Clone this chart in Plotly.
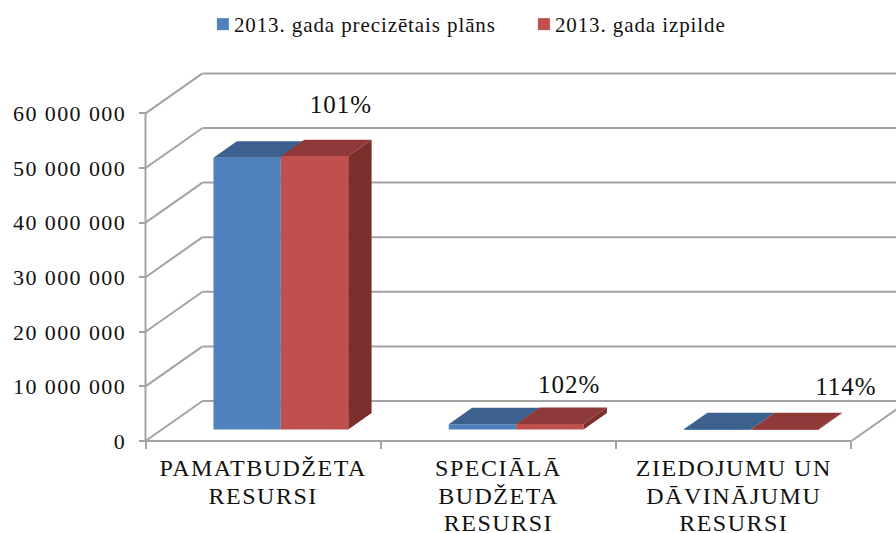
import plotly.graph_objects as go

categories = ["PAMATBUDŽETA<br>RESURSI", "SPECIĀLĀ<br>BUDŽETA<br>RESURSI", "ZIEDOJUMU UN<br>DĀVINĀJUMU<br>RESURSI"]
plan_name = "2013. gada precizētais plāns"
done_name = "2013. gada izpilde"
plan_values = [49750000, 950000, 50000]
done_values = [50050000, 1000000, 55000]
pct_labels = ["101%", "102%", "114%"]
y_ticks = [0, 10000000, 20000000, 30000000, 40000000, 50000000, 60000000]
y_tick_text = ["0", "10 000 000", "20 000 000", "30 000 000", "40 000 000", "50 000 000", "60 000 000"]

# oblique projection of the 3D box, in axis units
WALL_DX, WALL_DY = 0.2422, 7330000
D_FRONT, D_BACK = 0.29, 0.70
BAR_W, CENTER = 0.2864, 0.505
LABEL_X = [0.831, 1.80, 2.977]
LABEL_Y = [61134000, 9894000, 9534000]

BLUE, BLUE_TOP = "#4F81BD", "#3C618F"
RED, RED_TOP, RED_SIDE = "#C0504D", "#8F3A38", "#7B2F2D"
GRID = "#A3A3A3"
FONT = "Liberation Serif"

def proj(x, v, d):
    return x + d * WALL_DX, v + d * WALL_DY

fig = go.Figure()
base = D_FRONT * WALL_DY
for i, (name, vals, col) in enumerate([(plan_name, plan_values, BLUE), (done_name, done_values, RED)]):
    xs = [k + CENTER + (i - 1) * BAR_W + BAR_W / 2 + D_FRONT * WALL_DX for k in range(3)]
    fig.add_trace(go.Bar(name=name, x=xs, y=vals, base=[base] * 3, width=BAR_W,
                         marker=dict(color=col, line=dict(width=0)), hoverinfo="skip"))

def face(pts, col):
    fig.add_trace(go.Scatter(x=[p[0] for p in pts], y=[p[1] for p in pts], mode="lines", fill="toself",
                             fillcolor=col, line=dict(width=0, color=col), showlegend=False, hoverinfo="skip"))

for k in range(3):
    for i, (vals, col) in enumerate([(plan_values, BLUE_TOP), (done_values, RED_TOP)]):
        x0 = k + CENTER + (i - 1) * BAR_W
        x1 = x0 + BAR_W
        v = vals[k]
        face([proj(x0, v, D_FRONT), proj(x1, v, D_FRONT), proj(x1, v, D_BACK), proj(x0, v, D_BACK)], col)
        if i == 1:
            face([proj(x1, 0, D_FRONT), proj(x1, v, D_FRONT), proj(x1, v, D_BACK), proj(x1, 0, D_BACK)], RED_SIDE)

fig.add_trace(go.Scatter(x=LABEL_X, y=LABEL_Y, mode="text", text=pct_labels, textposition="middle center",
                         textfont=dict(family=FONT, size=25, color="#111111"), showlegend=False, hoverinfo="skip"))

shapes = []
def seg(x0, y0, x1, y1):
    shapes.append(dict(type="line", xref="x", yref="y", x0=x0, y0=y0, x1=x1, y1=y1, layer="below",
                       line=dict(color=GRID, width=2)))
for v in y_ticks:
    seg(0, v, WALL_DX, v + WALL_DY)
    seg(WALL_DX, v + WALL_DY, 3 + WALL_DX, v + WALL_DY)
seg(0, 0, 0, y_ticks[-1])
seg(0, 0, 3, 0)
seg(3, 0, 3 + WALL_DX, WALL_DY)

W, H = 896, 533
X0_PX, X_UNIT = 145.5, 235.3
Y0_PX, Y_UNIT = 441.0, 54.6 / 10000000

fig.update_layout(
    width=W, height=H, margin=dict(l=0, r=0, t=0, b=0), paper_bgcolor="white", plot_bgcolor="white",
    barmode="overlay", shapes=shapes,
    font=dict(family=FONT, color="#111111"),
    legend=dict(orientation="h", x=0.2164, y=0.9925, xanchor="left", yanchor="top", font=dict(family=FONT, size=21),
                bgcolor="rgba(0,0,0,0)", itemclick=False, traceorder="normal", entrywidth=276, entrywidthmode="pixels"),
    xaxis=dict(range=[-X0_PX / X_UNIT, (W - X0_PX) / X_UNIT], domain=[0, 1], anchor="free", position=(H - Y0_PX) / H,
               automargin=False,
               tickmode="array", tickvals=[0.5, 1.5, 2.5], ticktext=categories, ticks="", showgrid=False, zeroline=False,
               showline=False, tickangle=0, tickfont=dict(family=FONT, size=24, color="#111111"), ticklabelstandoff=10,
               minor=dict(tickmode="array", tickvals=[0, 1, 2, 3], ticks="outside", ticklen=7, tickwidth=2, tickcolor=GRID, showgrid=False)),
    yaxis=dict(range=[(Y0_PX - H) / Y_UNIT, Y0_PX / Y_UNIT], domain=[0, 1], anchor="free", position=X0_PX / W,
               automargin=False,
               tickmode="array", tickvals=y_ticks, ticktext=y_tick_text, ticks="outside", ticklen=7, tickwidth=2, tickcolor=GRID,
               showgrid=False, zeroline=False, showline=False, tickfont=dict(family=FONT, size=22, color="#111111"), ticklabelstandoff=8),
)

post = """
document.body.style.margin='0';
document.querySelectorAll('.ytick text').forEach(function(t){t.style.letterSpacing='1.4px';});
document.querySelectorAll('.xtick text').forEach(function(t){
  t.style.letterSpacing='1.5px';
  t.querySelectorAll('tspan.line').forEach(function(s,i){s.setAttribute('dy',(i*27.5)+'px');});
});
document.querySelectorAll('.textpoint text').forEach(function(t){t.style.letterSpacing='1px';});
document.querySelectorAll('.legend .legendtext').forEach(function(t){t.style.letterSpacing='0.9px';});
document.querySelectorAll('.legend .legendpoints').forEach(function(p){p.setAttribute('transform','translate(9,0)');});
"""
fig.write_html("out.html", post_script=post, config=dict(displayModeBar=False))
